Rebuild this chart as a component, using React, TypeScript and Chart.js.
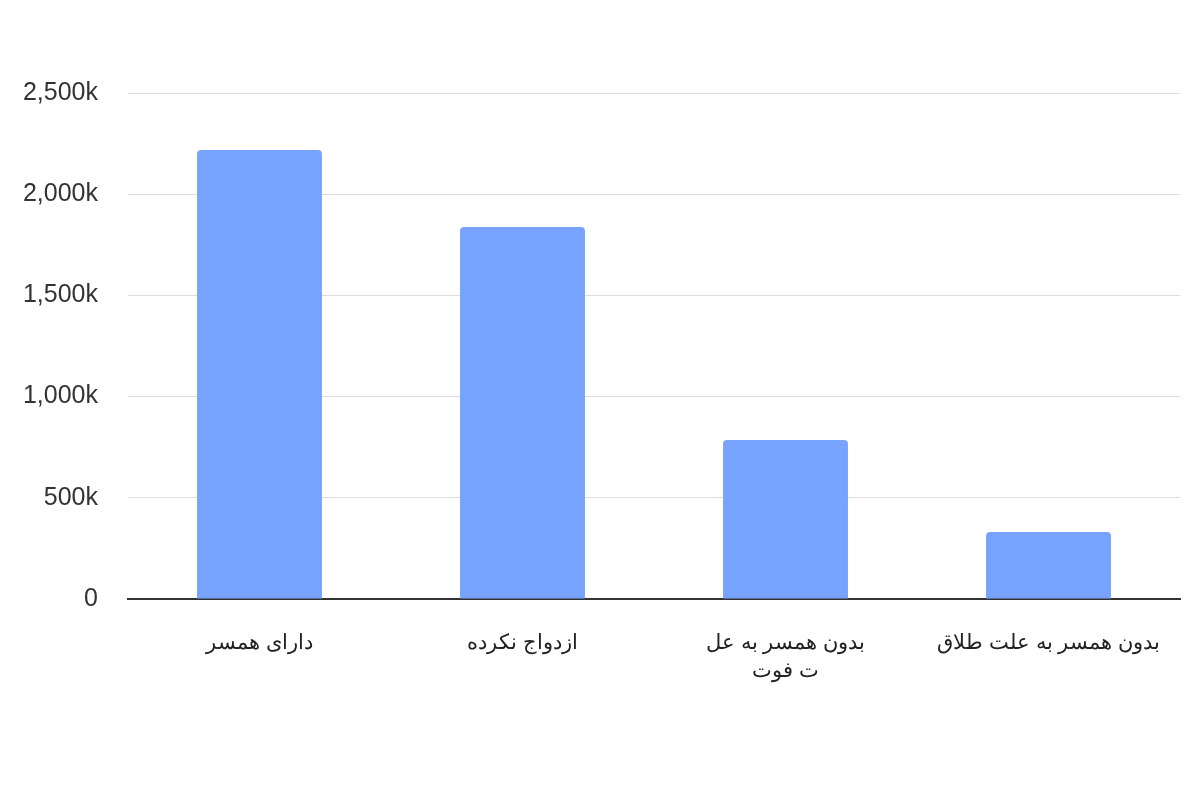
import { useEffect, useRef } from "react";
import { Chart, registerables } from "chart.js";

Chart.register(...registerables);

const categories: (string | string[])[] = [
    "دارای همسر",
    "ازدواج نکرده",
    ["بدون همسر به عل", "ت فوت"],
    "بدون همسر به علت طلاق",
];
const population = [2218000, 1838000, 786000, 331000];
const yTicks = [0, 500000, 1000000, 1500000, 2000000, 2500000];

const formatK = (v: number) => (v === 0 ? "0" : (v / 1000).toLocaleString("en-US") + "k");

export default function App() {
    const chartRef = useRef<HTMLCanvasElement>(null);
    const chartInstance = useRef<Chart | null>(null);

    useEffect(() => {
        if (!chartRef.current) return;
        const ctx = chartRef.current.getContext("2d");
        if (!ctx) return;

        const config = {
            type: "bar",
            data: {
                labels: categories,
                datasets: [
                    {
                        data: population,
                        backgroundColor: "#77a3fd",
                        borderRadius: { topLeft: 4, topRight: 4 },
                        borderSkipped: "bottom",
                        categoryPercentage: 0.95,
                        barPercentage: 0.5,
                    },
                ],
            },
            options: {
                responsive: false,
                animation: false,
                layout: { padding: { top: 93, right: 20, left: 0, bottom: 0 } },
                plugins: {
                    legend: { display: false },
                    tooltip: { enabled: false },
                },
                scales: {
                    x: {
                        grid: { display: false, drawTicks: false },
                        border: { color: "#333333", width: 2 },
                        ticks: {
                            color: "#222222",
                            padding: 30,
                            maxRotation: 0,
                            autoSkip: false,
                            font: {
                                family: "'Liberation Sans', Arial, sans-serif",
                                size: 21,
                                lineHeight: 1.35,
                            },
                        },
                        afterFit: (scale: any) => {
                            scale.height = 201;
                        },
                    },
                    y: {
                        min: 0,
                        max: 2500000,
                        afterBuildTicks: (scale: any) => {
                            scale.ticks = yTicks.map((v) => ({ value: v }));
                        },
                        grid: { color: "#dddddd", lineWidth: 1, drawTicks: false },
                        border: { display: false },
                        ticks: {
                            color: "#333333",
                            padding: 30,
                            font: { family: "'Liberation Sans', Arial, sans-serif", size: 25 },
                            callback: (v: any) => formatK(Number(v)),
                        },
                        afterFit: (scale: any) => {
                            scale.width = 128;
                        },
                    },
                },
            },
        };

        chartInstance.current = new Chart(ctx, config as any);
        return () => {
            if (chartInstance.current) {
                chartInstance.current.destroy();
                chartInstance.current = null;
            }
        };
    }, []);

    return (
        <div style={{ position: "fixed", left: 0, top: 0, width: 1200, height: 800, background: "#fff" }}>
            <canvas ref={chartRef} width={1200} height={800} />
        </div>
    );
}
